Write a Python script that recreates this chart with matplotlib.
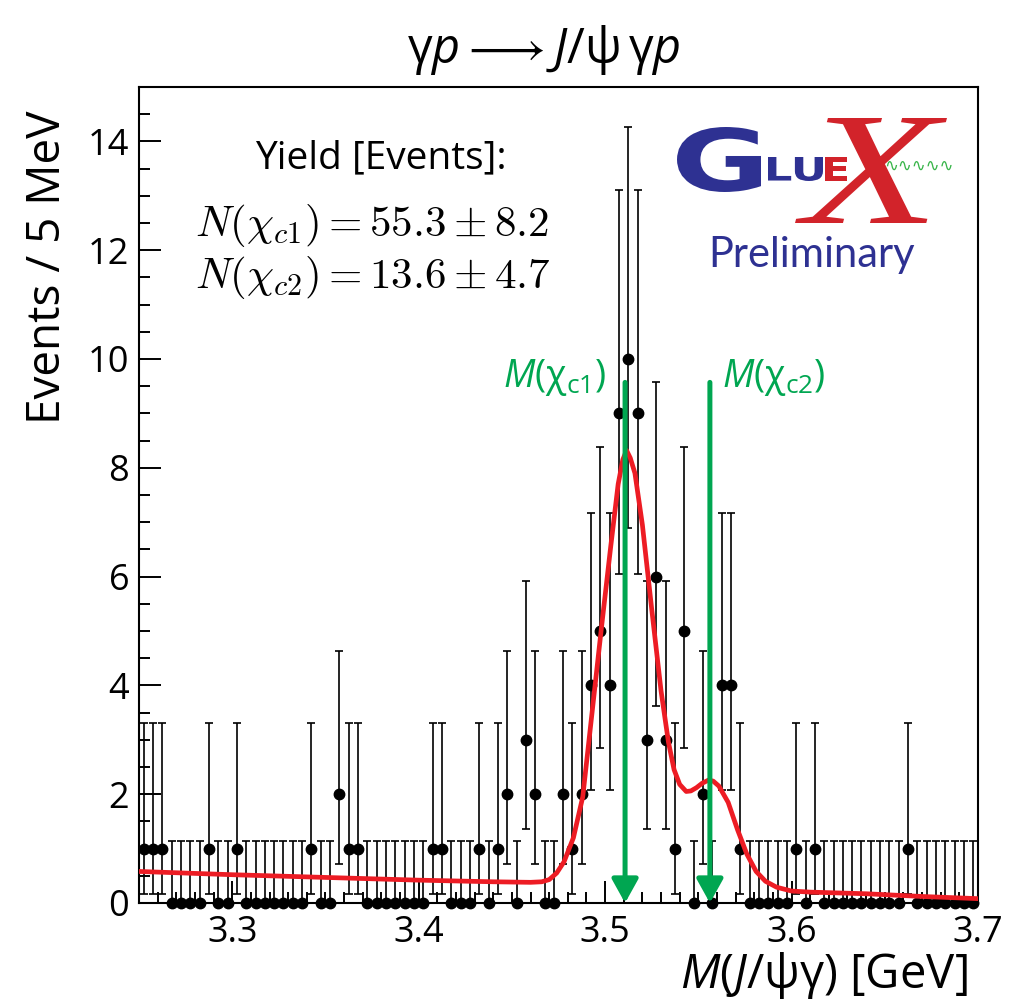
import matplotlib
matplotlib.use("Agg")
import matplotlib.pyplot as plt
import numpy as np
from matplotlib.font_manager import FontProperties
from matplotlib.patches import PathPatch
from matplotlib.textpath import TextPath
from matplotlib.ticker import FormatStrFormatter, MultipleLocator
from matplotlib.transforms import Affine2D

# --- data ----------------------------------------------------------------
# 5 MeV bins from 3.25 to 3.70 GeV
hist_lo, hist_hi, n_bins = 3.25, 3.70, 90
counts = [
    1, 1, 1, 0, 0, 0, 0, 1, 0, 0,
    1, 0, 0, 0, 0, 0, 0, 0, 1, 0,
    0, 2, 1, 1, 0, 0, 0, 0, 0, 0,
    0, 1, 1, 0, 0, 0, 1, 0, 1, 2,
    0, 3, 2, 0, 0, 2, 1, 2, 4, 5,
    4, 9, 10, 9, 3, 6, 3, 1, 5, 0,
    2, 0, 4, 4, 1, 0, 0, 0, 0, 0,
    1, 0, 1, 0, 0, 0, 0, 0, 0, 0,
    0, 0, 1, 0, 0, 0, 0, 0, 0, 0,
]

# asymmetric (Poisson) error bars per count
err_n = [0, 1, 2, 3, 4, 5, 6, 9, 10]
err_low = [0.0, 0.827, 1.292, 1.633, 1.914, 2.159, 2.380, 2.944, 3.108]
err_high = [1.148, 2.300, 2.638, 2.918, 3.162, 3.382, 3.583, 4.110, 4.266]

# fitted curve (red)
fit_x = [3.250, 3.300, 3.350, 3.400, 3.440, 3.460, 3.466, 3.470, 3.474, 3.478,
         3.483, 3.488, 3.493, 3.498, 3.503, 3.507, 3.5095, 3.5115, 3.5135, 3.516,
         3.520, 3.525, 3.530, 3.534, 3.537, 3.540, 3.5435, 3.546, 3.549, 3.552,
         3.5555, 3.558, 3.561, 3.566, 3.571, 3.576, 3.581, 3.586, 3.592, 3.600,
         3.610, 3.640, 3.670, 3.700]
fit_y = [0.58, 0.52, 0.47, 0.42, 0.39, 0.38, 0.39, 0.43, 0.55, 0.76,
         1.20, 1.95, 3.50, 5.05, 6.55, 7.70, 8.15, 8.32, 8.18, 7.90,
         6.95, 5.40, 3.90, 2.95, 2.45, 2.18, 2.05, 2.06, 2.12, 2.20,
         2.26, 2.24, 2.15, 1.85, 1.35, 0.90, 0.58, 0.40, 0.29, 0.22,
         0.20, 0.17, 0.12, 0.08]

chi_mass = [3.5107, 3.5562]
chi_label = [r"$\mathit{M}(\mathrm{\chi}_{\mathrm{c1}})$", r"$\mathit{M}(\mathrm{\chi}_{\mathrm{c2}})$"]
arrow_top = 9.57

yield_lines = [r"$N(\chi_{c1}) = 55.3 \pm 8.2$", r"$N(\chi_{c2}) = 13.6 \pm 4.7$"]

# --- style ----------------------------------------------------------------
W, H = 1029, 1008
plt.rcParams["font.family"] = ["Open Sans", "DejaVu Sans"]
plt.rcParams["mathtext.fontset"] = "custom"
plt.rcParams["mathtext.rm"] = "Open Sans"
plt.rcParams["mathtext.it"] = "Open Sans:italic"
plt.rcParams["mathtext.bf"] = "Open Sans:bold"

GREEN = "#00a651"
RED = "#ed1c24"
BLUE = "#2e3192"
LOGO_RED = "#d2232a"


def fx(x):
    return x / W


def fy(y):
    return 1 - y / H


def glyph(fig, s, box, color, prop):
    """draw text s stretched into box (x0, y0, x1, y1) in image pixels"""
    x0, y0, x1, y1 = box
    tp = TextPath((0, 0), s, size=100, prop=prop)
    bb = tp.get_extents()
    tr = (Affine2D().translate(-bb.x0, -bb.y0)
          .scale((x1 - x0) / bb.width, (y1 - y0) / bb.height)
          .translate(x0, H - y1).scale(1.0 / W, 1.0 / H))
    fig.add_artist(PathPatch(tr.transform_path(tp), facecolor=color, edgecolor="none",
                             transform=fig.transFigure))


fig = plt.figure(figsize=(W / 100, H / 100), dpi=100)
ax = fig.add_axes([fx(139), fy(903), fx(978 - 139), (903 - 87) / H])

edges = np.linspace(hist_lo, hist_hi, n_bins + 1)
centers = 0.5 * (edges[:-1] + edges[1:])
y = np.array(counts, dtype=float)
lo = np.array([err_low[err_n.index(c)] for c in counts])
hi = np.array([err_high[err_n.index(c)] for c in counts])

ax.errorbar(centers, y, yerr=[lo, hi], fmt="none", ecolor="black",
            elinewidth=1.2, capsize=2.6, capthick=1.2, zorder=2)
ax.plot(centers, y, "o", color="black", markersize=7.5, clip_on=False, zorder=2.5)

ax.plot(fit_x, fit_y, color=RED, lw=3.4, zorder=3, solid_joinstyle="round")

for m in chi_mass:
    ax.annotate("", xy=(m, 0), xytext=(m, arrow_top),
                arrowprops=dict(arrowstyle="-|>,head_length=0.72,head_width=0.4",
                                color=GREEN, lw=3.6, mutation_scale=20,
                                shrinkA=0, shrinkB=0),
                zorder=4, annotation_clip=False)

ax.set_xlim(hist_lo, hist_hi)
ax.set_ylim(0, 15)
ax.xaxis.set_major_locator(MultipleLocator(0.1))
ax.xaxis.set_minor_locator(MultipleLocator(0.01))
ax.yaxis.set_major_locator(MultipleLocator(2))
ax.yaxis.set_minor_locator(MultipleLocator(0.5))
ax.xaxis.set_major_formatter(FormatStrFormatter("%.1f"))
ax.yaxis.set_major_formatter(FormatStrFormatter("%d"))
ax.tick_params(which="both", direction="in", top=False, right=False, width=1.4)
ax.tick_params(which="major", length=16, labelsize=26)
ax.tick_params(which="minor", length=8)
ax.tick_params(axis="x", pad=9)
ax.tick_params(axis="y", pad=7)
for sp in ax.spines.values():
    sp.set_linewidth(1.5)

# labels
fig.text(fx(544), fy(63),
         r"$\mathrm{\gamma}\mathit{p}\longrightarrow\mathit{J}/\mathrm{\psi}\,\mathrm{\gamma}\mathit{p}$",
         ha="center", va="baseline", fontsize=35)
fig.text(fx(968), fy(988), r"$\mathit{M}(\mathit{J}/\mathrm{\psi\gamma})$ [GeV]",
         ha="right", va="baseline", fontsize=34)
fig.text(fx(48), fy(110), "Events / 5 MeV", rotation=90, ha="center", va="top", fontsize=33)

fig.text(fx(381), fy(158), "Yield [Events]:", ha="center", va="center", fontsize=28)
fig.text(fx(195), fy(236), yield_lines[0], ha="left", va="baseline", fontsize=31,
         math_fontfamily="cm")
fig.text(fx(195), fy(288), yield_lines[1], ha="left", va="baseline", fontsize=31,
         math_fontfamily="cm")

fig.text(fx(607), fy(378), chi_label[0], ha="right", va="center", fontsize=27, color=GREEN)
fig.text(fx(722), fy(378), chi_label[1], ha="left", va="center", fontsize=27, color=GREEN)

# GlueX logo
bold = FontProperties(family="DejaVu Sans", weight="bold")
glyph(fig, "X", (795, 118, 947, 223), LOGO_RED,
      FontProperties(family="Liberation Serif", style="italic"))
glyph(fig, "G", (677, 127, 761, 192), BLUE, bold)
glyph(fig, "LU", (768, 157, 823, 181), BLUE, bold)
glyph(fig, "E", (825, 157, 847, 181), LOGO_RED, bold)
fig.text(fx(919), fy(166), "∿∿∿∿∿", ha="center", va="center", fontsize=12,
         color="#39b54a", family="DejaVu Sans")
fig.text(fx(812), fy(255), "Preliminary", ha="center", va="center", fontsize=30,
         color=BLUE, family="Lato")

fig.savefig("out.png", dpi=100)
